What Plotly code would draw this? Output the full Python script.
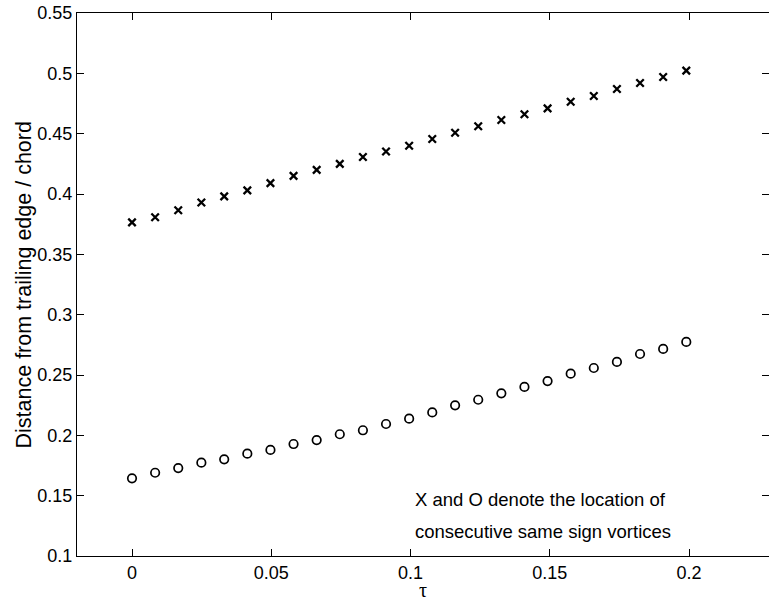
import plotly.graph_objects as go

# tau values (x)
tau = [0.0, 0.0083, 0.0166, 0.0249, 0.0331, 0.0414, 0.0497, 0.0580, 0.0663,
       0.0746, 0.0829, 0.0912, 0.0995, 0.1078, 0.1160, 0.1243, 0.1326, 0.1409,
       0.1492, 0.1575, 0.1658, 0.1741, 0.1824, 0.1907, 0.1990]

# X markers: distance from trailing edge / chord
x_series = [0.3765, 0.3807, 0.3865, 0.3930, 0.3980, 0.4030, 0.4090, 0.4150,
            0.4200, 0.4250, 0.4307, 0.4352, 0.4400, 0.4456, 0.4508, 0.4561,
            0.4613, 0.4661, 0.4710, 0.4765, 0.4812, 0.4870, 0.4920, 0.4970,
            0.5022]

# O markers
o_series = [0.1644, 0.1690, 0.1729, 0.1773, 0.1801, 0.1848, 0.1879, 0.1928,
            0.1961, 0.2009, 0.2042, 0.2094, 0.2138, 0.2190, 0.2249, 0.2295,
            0.2348, 0.2401, 0.2450, 0.2511, 0.2558, 0.2608, 0.2674, 0.2716,
            0.2774]

x_ticks = [0, 0.05, 0.1, 0.15, 0.2]
x_ticklabels = ["0", "0.05", "0.1", "0.15", "0.2"]
y_ticks = [0.1, 0.15, 0.2, 0.25, 0.3, 0.35, 0.4, 0.45, 0.5, 0.55]
y_ticklabels = ["0.1", "0.15", "0.2", "0.25", "0.3", "0.35", "0.4", "0.45", "0.5", "0.55"]

note_lines = ["X and O denote the location of", "consecutive same sign vortices"]

FONT = "Liberation Sans, Arial, Helvetica, sans-serif"

fig = go.Figure()
fig.add_trace(go.Scatter(
    x=tau, y=x_series, mode="markers",
    marker=dict(symbol="x-thin-open", size=7.5, color="black",
                line=dict(color="black", width=2.3)),
    showlegend=False, hoverinfo="skip"))
fig.add_trace(go.Scatter(
    x=tau, y=o_series, mode="markers",
    marker=dict(symbol="circle-open", size=8.5, color="black",
                line=dict(color="black", width=1.7)),
    showlegend=False, hoverinfo="skip"))

axis_common = dict(
    showgrid=False, zeroline=False, showline=True, linecolor="black",
    linewidth=1.3, mirror="ticks", ticks="inside", ticklen=7,
    tickcolor="black", tickwidth=1.2,
    tickfont=dict(family=FONT, size=18, color="black"))

fig.update_xaxes(range=[-0.01975, 0.2287], tickvals=x_ticks,
                 ticktext=x_ticklabels, **axis_common)
fig.update_yaxes(range=[0.1, 0.55], tickvals=y_ticks,
                 ticktext=y_ticklabels, **axis_common)

annotations = [
    dict(text=note_lines[0], x=0.1008, y=0.1465, xref="x", yref="y",
         xanchor="left", yanchor="middle", showarrow=False,
         font=dict(family=FONT, size=18.5, color="black")),
    dict(text=note_lines[1], x=0.1008, y=0.1205, xref="x", yref="y",
         xanchor="left", yanchor="middle", showarrow=False,
         font=dict(family=FONT, size=18.5, color="black")),
    dict(text="Distance from trailing edge / chord", x=-0.0766, y=0.5,
         xref="paper", yref="paper", textangle=-90, xanchor="center",
         yanchor="middle", showarrow=False,
         font=dict(family=FONT, size=21.5, color="black")),
    dict(text="τ", x=0.5, y=-0.0865, xref="paper", yref="paper",
         xanchor="center", yanchor="bottom", showarrow=False,
         font=dict(family="Liberation Serif, Times New Roman, serif", size=20, color="black")),
]

fig.update_layout(
    width=769, height=603,
    margin=dict(l=77, r=0, t=13, b=47),
    plot_bgcolor="white", paper_bgcolor="white",
    annotations=annotations,
)

fig.write_html("out.html")
